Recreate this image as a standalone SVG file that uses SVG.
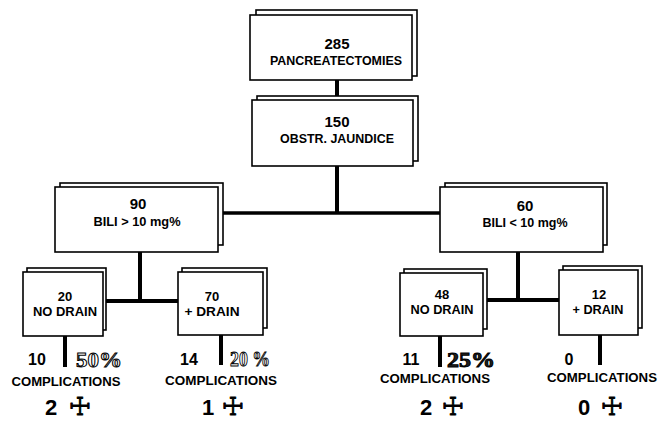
<svg xmlns="http://www.w3.org/2000/svg" width="660" height="430" viewBox="0 0 660 430">
<style>
.sh{fill:#fff;stroke:#000;stroke-width:1.6}
.fr{fill:#fff;stroke:#000;stroke-width:1.6}
.t{font-family:"Liberation Sans",Arial,sans-serif;font-weight:bold;fill:#000;text-anchor:middle}
.n{font-size:15px}
.s{font-size:13px}
.b{font-size:16px}
.big{font-size:22px}
.pct{font-family:"Liberation Serif","Times New Roman",serif;font-weight:bold;font-size:22px;fill:#fff;stroke:#000;stroke-width:1}
.x{font-family:"DejaVu Sans",sans-serif;font-size:25px;fill:#000;stroke:#000;stroke-width:0.9;text-anchor:middle}
.c line{stroke:#000;stroke-width:4}
</style>
<rect width="660" height="430" fill="#fff"/>
<g class="c" id="connectors">
<line x1="337" y1="80" x2="337" y2="100"/>
<line x1="337" y1="166" x2="337" y2="213"/>
<line x1="218" y1="213" x2="440" y2="213" style="stroke-width:3.5"/>
<line x1="140" y1="252" x2="140" y2="301"/>
<line x1="103" y1="301" x2="178" y2="301"/>
<line x1="518" y1="252" x2="518" y2="300"/>
<line x1="483" y1="300" x2="559" y2="300"/>
<line x1="65" y1="336" x2="65" y2="367"/>
<line x1="221" y1="335" x2="221" y2="365"/>
<line x1="440" y1="336" x2="440" y2="367"/>
<line x1="600" y1="335" x2="600" y2="365"/>
</g>
<g id="n285">
<rect class="sh" x="256" y="10" width="161" height="66"/>
<rect class="fr" x="250" y="15" width="162" height="65"/>
<text class="t n" x="337" y="49">285</text>
<text class="t s" x="336" y="65" textLength="132" lengthAdjust="spacingAndGlyphs">PANCREATECTOMIES</text>
</g>
<g id="n150">
<rect class="sh" x="257" y="96" width="161" height="65"/>
<rect class="fr" x="252" y="100" width="161" height="66"/>
<text class="t n" x="337" y="127">150</text>
<text class="t s" x="337" y="143" textLength="114" lengthAdjust="spacingAndGlyphs">OBSTR. JAUNDICE</text>
</g>
<g id="n90">
<rect class="sh" x="60" y="183" width="163" height="62"/>
<rect class="fr" x="55" y="187" width="163" height="65"/>
<text class="t n" x="138" y="209">90</text>
<text class="t s" x="137" y="226" textLength="87" lengthAdjust="spacingAndGlyphs">BILI &gt; 10 mg%</text>
</g>
<g id="n60">
<rect class="sh" x="445" y="183" width="162" height="62"/>
<rect class="fr" x="440" y="187" width="163" height="65"/>
<text class="t n" x="525" y="211">60</text>
<text class="t s" x="525" y="227" textLength="85" lengthAdjust="spacingAndGlyphs">BILI &lt; 10 mg%</text>
</g>
<g id="n20">
<rect class="sh" x="27" y="268" width="79" height="62"/>
<rect class="fr" x="23" y="272" width="80" height="64"/>
<text class="t s" x="65" y="301">20</text>
<text class="t s" x="65" y="316" textLength="64" lengthAdjust="spacingAndGlyphs">NO DRAIN</text>
</g>
<g id="n70">
<rect class="sh" x="182" y="268" width="85" height="60"/>
<rect class="fr" x="178" y="272" width="85" height="63"/>
<text class="t s" x="212" y="301">70</text>
<text class="t s" x="212" y="316" textLength="55" lengthAdjust="spacingAndGlyphs">+ DRAIN</text>
</g>
<g id="n48">
<rect class="sh" x="404" y="269" width="83" height="60"/>
<rect class="fr" x="400" y="273" width="83" height="63"/>
<text class="t s" x="442" y="299">48</text>
<text class="t s" x="442" y="314" textLength="63" lengthAdjust="spacingAndGlyphs">NO DRAIN</text>
</g>
<g id="n12">
<rect class="sh" x="563" y="266" width="79" height="62"/>
<rect class="fr" x="559" y="270" width="79" height="65"/>
<text class="t s" x="599" y="299">12</text>
<text class="t s" x="598" y="314" textLength="51" lengthAdjust="spacingAndGlyphs">+ DRAIN</text>
</g>
<g id="r20">
<text class="t b" x="37" y="365">10</text>
<text class="pct" x="76" y="367" textLength="46" lengthAdjust="spacingAndGlyphs">50%</text>
<text class="t s" x="66" y="386" textLength="109" lengthAdjust="spacingAndGlyphs">COMPLICATIONS</text>
<text class="t big" x="51" y="415">2</text>
<text class="x" x="80" y="415">☩</text>
</g>
<g id="r70">
<text class="t b" x="189" y="365">14</text>
<text class="pct" x="230" y="366" textLength="40" lengthAdjust="spacingAndGlyphs">20 %</text>
<text class="t s" x="221" y="385" textLength="112" lengthAdjust="spacingAndGlyphs">COMPLICATIONS</text>
<text class="t big" x="208" y="415">1</text>
<text class="x" x="233" y="415">☩</text>
</g>
<g id="r48">
<text class="t b" x="411" y="365">11</text>
<text class="pct" x="447" y="367" textLength="48" lengthAdjust="spacingAndGlyphs" style="fill:#222">25%</text>
<text class="t s" x="435" y="383" textLength="110" lengthAdjust="spacingAndGlyphs">COMPLICATIONS</text>
<text class="t big" x="426" y="415">2</text>
<text class="x" x="453" y="415">☩</text>
</g>
<g id="r12">
<text class="t b" x="569" y="365">0</text>
<text class="t s" x="602" y="382" textLength="110" lengthAdjust="spacingAndGlyphs">COMPLICATIONS</text>
<text class="t big" x="584" y="415">0</text>
<text class="x" x="612" y="415">☩</text>
</g>
</svg>
